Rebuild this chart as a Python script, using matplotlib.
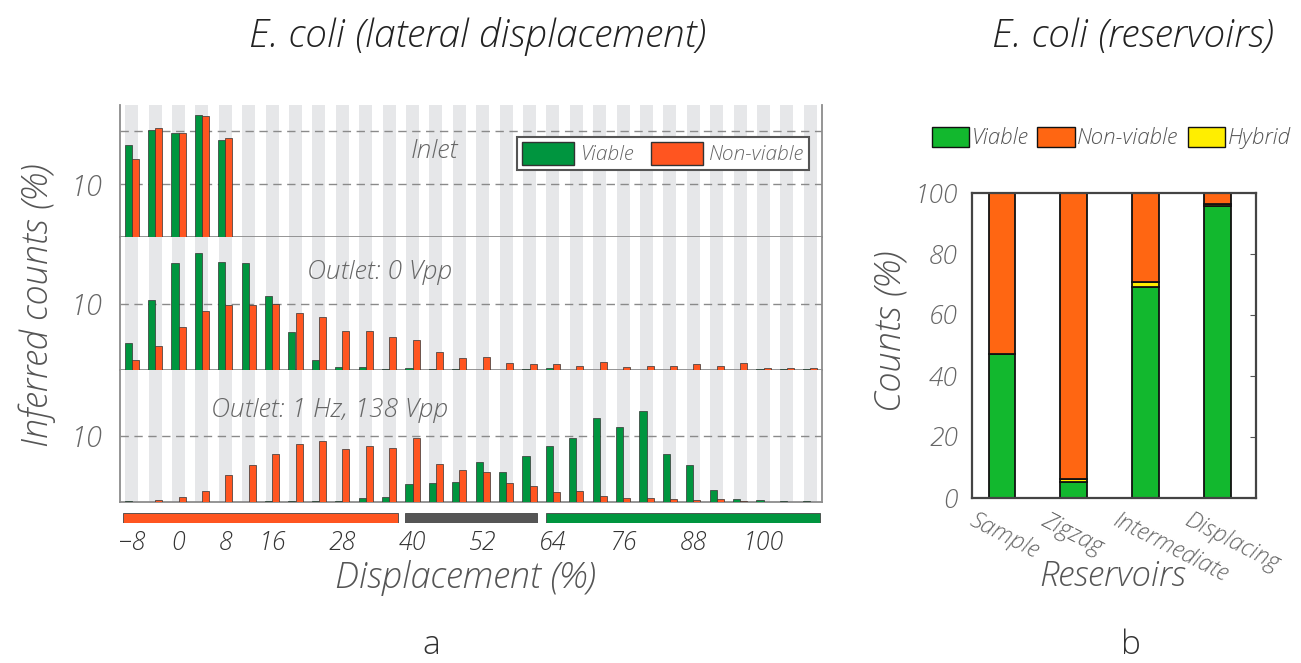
import numpy as np
import matplotlib.pyplot as plt
from matplotlib.patches import Patch
from matplotlib.transforms import ScaledTranslation

plt.rcParams['font.family'] = ['Open Sans', 'DejaVu Sans']
plt.rcParams['font.style'] = 'italic'
plt.rcParams['font.weight'] = 'light'

# displacement bins (%), one bar pair per bin
bins = np.arange(-8, 109, 4)

inlet_viable = [17.4, 20.2, 19.7, 23.1, 18.3, 0, 0, 0, 0, 0, 0, 0, 0, 0, 0,
                0, 0, 0, 0, 0, 0, 0, 0, 0, 0, 0, 0, 0, 0, 0]
inlet_nonviable = [14.8, 20.7, 19.7, 22.9, 18.8, 0, 0, 0, 0, 0, 0, 0, 0, 0, 0,
                   0, 0, 0, 0, 0, 0, 0, 0, 0, 0, 0, 0, 0, 0, 0]

out0_viable = [4.0, 10.5, 16.1, 17.7, 16.3, 16.1, 11.2, 5.7, 1.5, 0.4, 0.4, 0.1, 0.2, 0.1, 0.1,
               0, 0, 0.1, 0.2, 0, 0, 0, 0, 0, 0, 0, 0, 0.1, 0.1, 0.1]
out0_nonviable = [1.4, 3.6, 6.5, 8.9, 9.8, 9.7, 10.0, 8.6, 8.0, 5.8, 5.8, 4.9, 4.5, 2.6, 1.7,
                  1.9, 1.0, 0.8, 0.8, 0.5, 1.1, 0.35, 0.5, 0.5, 0.8, 0.6, 1.0, 0.2, 0.2, 0.2]

out1_viable = [0.1, 0, 0, 0, 0, 0, 0.1, 0.1, 0.15, 0.15, 0.6, 0.75, 2.7, 2.8, 3.0,
               6.0, 4.5, 6.9, 8.5, 9.6, 12.7, 11.4, 13.7, 7.3, 5.6, 1.8, 0.5, 0.35, 0.1, 0.1]
out1_nonviable = [0.05, 0.25, 0.75, 1.7, 4.1, 5.6, 7.2, 8.7, 9.2, 8.0, 8.5, 8.2, 9.6, 5.7, 4.8,
                  4.5, 2.9, 2.4, 1.5, 1.6, 0.9, 0.6, 0.65, 0.45, 0.35, 0.45, 0.1, 0.05, 0, 0]

panel_names = ['Inlet', 'Outlet: 0 Vpp', 'Outlet: 1 Hz, 138 Vpp']
panel_ymax = [25, 20, 20]

# colour bands under the histogram (displacement ranges)
band_lo = [-9.5, 38.7, 62.8]
band_hi = [37.5, 61.3, 109.7]

xtick_vals = [-8, 0, 8, 16, 28, 40, 52, 64, 76, 88, 100]

# reservoirs
reservoirs = ['Sample', 'Zigzag', 'Intermediate', 'Displacing']
res_viable = [47.3, 5.3, 69.2, 95.9]
res_hybrid = [0.0, 1.0, 1.7, 0.6]
res_nonviable = [100 - v - h for v, h in zip(res_viable, res_hybrid)]

GREEN = '#00953f'
ORANGE = '#ff5520'
GREEN2 = '#12b82e'
ORANGE2 = '#ff6612'
YELLOW = '#ffee00'
TXT = '#555555'

W, H = 1301, 663
fig = plt.figure(figsize=(W / 100, H / 100), dpi=100)


def fbox(x0, y0, x1, y1):
    # pixel box -> figure fraction
    return [x0 / W, 1 - y1 / H, (x1 - x0) / W, (y1 - y0) / H]


panels = [(panel_names[0], inlet_viable, inlet_nonviable),
          (panel_names[1], out0_viable, out0_nonviable),
          (panel_names[2], out1_viable, out1_nonviable)]
label_pos = [(43.8, 16.2), (34.3, 14.7), (25.9, 13.9)]

top, bot = 105, 502
ph = (bot - top) / 3
axes = []
for i, (name, v, nv) in enumerate(panels):
    ax = fig.add_axes(fbox(120, top + i * ph, 822, top + (i + 1) * ph))
    axes.append(ax)
    for b in bins:
        ax.axvspan(b - 1.1, b + 1.1, color='#e6e7e9', lw=0, zorder=0)
    ax.bar(bins - 0.6, v, width=1.2, color=GREEN, edgecolor='#333333', lw=0.5, zorder=3)
    ax.bar(bins + 0.6, nv, width=1.2, color=ORANGE, edgecolor='#333333', lw=0.5, zorder=3)
    ax.set_xlim(-10, 110)
    ax.set_ylim(0, panel_ymax[i])
    if panel_ymax[i] > 20:
        ax.set_yticks([10, 20], ['10', ''])
    else:
        ax.set_yticks([10], ['10'])
    ax.grid(axis='y', color='#8a8a8a', lw=1.0, linestyle=(0, (6, 4)), zorder=1)
    ax.set_axisbelow(True)
    ax.tick_params(axis='y', length=0, pad=12, labelsize=21, labelcolor='#666666')
    ax.set_xticks([])
    ax.spines['top'].set_visible(False)
    for s in ['left', 'right', 'bottom']:
        ax.spines[s].set_color('#8c8c8c')
        ax.spines[s].set_linewidth(1.3)
    ax.text(label_pos[i][0], label_pos[i][1], name, ha='center', va='center',
            fontsize=19, color='#666666', zorder=5)

leg = axes[0].legend(handles=[Patch(facecolor=GREEN, edgecolor='#333333', label='Viable'),
                              Patch(facecolor=ORANGE, edgecolor='#333333', label='Non-viable')],
                     loc='upper right', bbox_to_anchor=(0.997, 0.84), ncol=2, fontsize=15,
                     handlelength=2.5, handleheight=1.3, handletextpad=0.3, columnspacing=0.8,
                     fancybox=False, framealpha=1, borderpad=0.25, labelcolor='#666666')
leg.get_frame().set_edgecolor('#555555')
leg.get_frame().set_linewidth(1.5)

# colour band strip + x ticks
axb = fig.add_axes(fbox(120, 513, 822, 523))
axb.barh(0.5, np.array(band_hi) - np.array(band_lo), left=band_lo, height=1,
         color=[ORANGE, '#555555', GREEN], edgecolor='#444444', lw=0.6)
axb.set_xlim(-10, 110)
axb.set_ylim(0, 1)
axb.set_yticks([])
axb.set_xticks(xtick_vals, [str(t).replace('-', '\u2212') for t in xtick_vals])
axb.tick_params(axis='x', length=0, pad=6, labelsize=18, labelcolor='#333333')
for s in axb.spines.values():
    s.set_visible(False)

fig.text(37 / W, 1 - 305 / H, 'Inferred counts (%)', rotation=90, ha='center', va='center',
         fontsize=26, color=TXT)
fig.text(466 / W, 1 - 578 / H, 'Displacement (%)', ha='center', va='center',
         fontsize=26, color=TXT)
fig.text(478 / W, 1 - 37 / H, 'E. coli (lateral displacement)', ha='center', va='center',
         fontsize=28, color='#222222')
fig.text(431 / W, 1 - 645 / H, 'a', ha='center', va='center', fontsize=24,
         style='normal', color='#333333')

# right panel
ax2 = fig.add_axes(fbox(972, 193, 1256, 498))
x = np.arange(len(reservoirs))
ax2.bar(x, res_viable, width=0.375, color=GREEN2, edgecolor='#111111', lw=1.3)
ax2.bar(x, res_hybrid, width=0.375, bottom=res_viable, color=YELLOW,
        edgecolor='#111111', lw=1.3)
ax2.bar(x, res_nonviable, width=0.375, bottom=np.array(res_viable) + np.array(res_hybrid),
        color=ORANGE2, edgecolor='#111111', lw=1.3)
ax2.set_xlim(-0.417, 3.53)
ax2.set_ylim(0, 100)
ax2.set_yticks(np.arange(0, 101, 20))
ax2.tick_params(axis='y', left=False, right=True, direction='in', length=4,
                labelsize=19, labelcolor='#666666', pad=10, color='#555555')
ax2.set_xticks(x, reservoirs, rotation=-27, ha='left', rotation_mode='anchor')
ax2.tick_params(axis='x', length=0, labelsize=17, labelcolor='#666666', pad=8)
for lab in ax2.get_xticklabels():
    lab.set_transform(lab.get_transform() + ScaledTranslation(-0.26, 0, fig.dpi_scale_trans))
for s in ax2.spines.values():
    s.set_color('#444444')
    s.set_linewidth(1.6)

fig.legend(handles=[Patch(facecolor=GREEN2, edgecolor='#111111', label='Viable'),
                    Patch(facecolor=ORANGE2, edgecolor='#111111', label='Non-viable'),
                    Patch(facecolor=YELLOW, edgecolor='#111111', label='Hybrid')],
           loc='center', bbox_to_anchor=(1111 / W, 1 - 138 / H), ncol=3, frameon=False,
           fontsize=16, handlelength=1.7, handleheight=1.0, handletextpad=0.1,
           columnspacing=0.4, labelcolor='#555555')

fig.text(890 / W, 1 - 331 / H, 'Counts (%)', rotation=90, ha='center', va='center',
         fontsize=26, color=TXT)
fig.text(1113 / W, 1 - 577 / H, 'Reservoirs', ha='center', va='center',
         fontsize=25, color=TXT)
fig.text(1133 / W, 1 - 37 / H, 'E. coli (reservoirs)', ha='center', va='center',
         fontsize=28, color='#222222')
fig.text(1131 / W, 1 - 645 / H, 'b', ha='center', va='center', fontsize=24,
         style='normal', color='#333333')

fig.savefig('out.png', dpi=100)
